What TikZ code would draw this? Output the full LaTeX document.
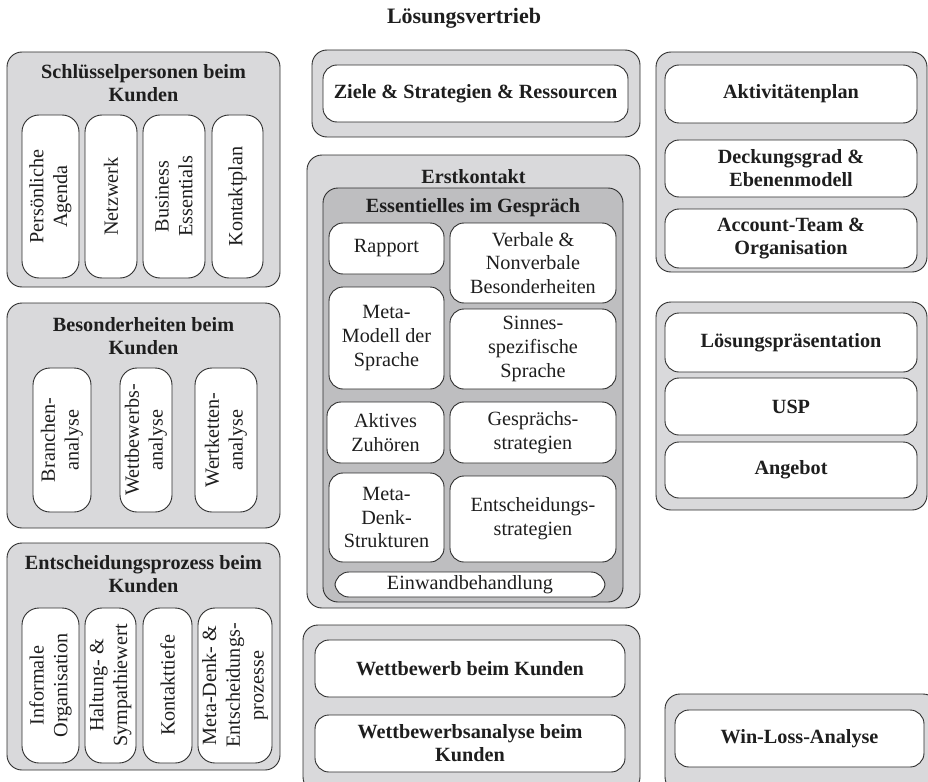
\documentclass[tikz,border=0pt]{standalone}
\usepackage{fontspec}
\setmainfont{Liberation Serif}
\definecolor{linec}{RGB}{45,45,45}
\definecolor{outerfill}{RGB}{217,217,219}
\definecolor{darkfill}{RGB}{190,190,192}
\definecolor{txt}{RGB}{30,30,30}
\tikzset{
  base/.style={draw=linec, line width=0.9, inner sep=0pt, rectangle},
  outerbox/.style={base, fill=outerfill, rounded corners=15},
  darkbox/.style={base, fill=darkfill, rounded corners=15},
  cell/.style={base, fill=white, rounded corners=14},
  pill/.style={base, fill=white, rounded corners=17},
  ttl/.style={text=txt, align=center, font=\fontsize{20.2}{23}\selectfont\bfseries},
  maintitle/.style={text=txt, align=center, font=\fontsize{22}{26}\selectfont\bfseries},
  btxt/.style={text=txt, align=center, font=\fontsize{20.2}{23}\selectfont\bfseries},
  rtxt/.style={text=txt, align=center, font=\fontsize{20.2}{23.8}\selectfont},
  rot/.style={rtxt, rotate=90},
}
\newcommand\bx[7]{\node[#1, minimum width={#5-#3}, minimum height={#6-#4}] (#2) at ({(#3+#5)/2},{(#4+#6)/2}) {#7};}
\begin{document}
\begin{tikzpicture}[x=1pt,y=-1pt]
\path[use as bounding box] (0,0) rectangle (928,781);
\clip (0,0) rectangle (928,781);
\node[maintitle] (title) at (464,18) {Lösungsvertrieb};

% ---- left column
\bx{outerbox}{L1}{7}{52}{280}{287}{}
\node[ttl] (L1t) at (143.5,83.5) {Schlüsselpersonen beim\\Kunden};
\bx{pill}{L1a}{22}{115}{79}{278}{}
\bx{pill}{L1b}{85}{115}{137}{278}{}
\bx{pill}{L1c}{143}{115}{205}{278}{}
\bx{pill}{L1d}{212}{115}{263}{278}{}
\node[rot] (L1at) at (L1a) {Persönliche\\Agenda};
\node[rot] (L1bt) at (L1b) {Netzwerk};
\node[rot] (L1ct) at (L1c) {Business\\Essentials};
\node[rot] (L1dt) at (L1d) {Kontaktplan};

\bx{outerbox}{L2}{7}{303}{280}{528}{}
\node[ttl] (L2t) at (143.5,336) {Besonderheiten beim\\Kunden};
\bx{pill}{L2a}{33}{368}{91}{512}{}
\bx{pill}{L2b}{120}{368}{172}{512}{}
\bx{pill}{L2c}{195}{368}{257}{512}{}
\node[rot] (L2at) at (L2a) {Branchen-\\analyse};
\node[rot] (L2bt) at (L2b) {Wettbewerbs-\\analyse};
\node[rot] (L2ct) at (L2c) {Wertketten-\\analyse};

\bx{outerbox}{L3}{7}{543}{280}{770}{}
\node[ttl] (L3t) at (143.5,574.5) {Entscheidungsprozess beim\\Kunden};
\bx{pill}{L3a}{22}{608}{79}{763}{}
\bx{pill}{L3b}{85}{608}{136}{763}{}
\bx{pill}{L3c}{143}{608}{192}{763}{}
\bx{pill}{L3d}{198}{608}{272}{763}{}
\node[rot] (L3at) at (L3a) {Informale\\Organisation};
\node[rot] (L3bt) at (L3b) {Haltung- \&\\Sympathiewert};
\node[rot] (L3ct) at (L3c) {Kontakttiefe};
\node[rot] (L3dt) at (L3d) {Meta-Denk- \&\\Entscheidungs-\\prozesse};

% ---- middle column
\bx{outerbox}{M1}{312}{50}{640}{137}{}
\bx{cell}{M1a}{323}{65}{628}{122}{}
\node[btxt] (M1at) at (M1a) {Ziele \& Strategien \& Ressourcen};

\bx{outerbox}{M2}{307}{155}{640}{608}{}
\node[ttl] (M2t) at (473.5,177) {Erstkontakt};
\bx{darkbox}{M2i}{323}{188}{623}{602}{}
\node[ttl] (M2it) at (473,208) {Essentielles im Gespräch};
\bx{cell}{E1}{329}{223}{444}{274}{}
\bx{cell}{E2}{450}{223}{616}{303}{}
\bx{cell}{E3}{329}{287}{444}{389}{}
\bx{cell}{E4}{450}{309}{616}{389}{}
\bx{cell}{E5}{327}{402}{444}{463}{}
\bx{cell}{E6}{450}{402}{616}{463}{}
\bx{cell}{E7}{329}{473}{444}{562}{}
\bx{cell}{E8}{450}{476}{616}{562}{}
\bx{cell}{E9}{335}{572}{605}{597}{}
\node[rtxt] (E1t) at (E1) {Rapport};
\node[rtxt] (E2t) at (E2) {Verbale \&\\Nonverbale\\Besonderheiten};
\node[rtxt] (E3t) at (E3) {Meta-\\Modell der\\Sprache};
\node[rtxt] (E4t) at (E4) {Sinnes-\\spezifische\\Sprache};
\node[rtxt] (E5t) at (E5) {Aktives\\Zuhören};
\node[rtxt] (E6t) at (E6) {Gesprächs-\\strategien};
\node[rtxt] (E7t) at (E7) {Meta-\\Denk-\\Strukturen};
\node[rtxt] (E8t) at (E8) {Entscheidungs-\\strategien};
\node[rtxt] (E9t) at (E9) {Einwandbehandlung};

\bx{outerbox}{M3}{303}{625}{640}{792}{}
\bx{cell}{M3a}{315}{640}{625}{697}{}
\bx{cell}{M3b}{315}{715}{625}{772}{}
\node[btxt] (M3at) at (M3a) {Wettbewerb beim Kunden};
\node[btxt] (M3bt) at (M3b) {Wettbewerbsanalyse beim\\Kunden};

% ---- right column
\bx{outerbox}{R1}{656}{52}{927}{272}{}
\bx{cell}{R1a}{665}{65}{917}{123}{}
\bx{cell}{R1b}{665}{140}{917}{197}{}
\bx{cell}{R1c}{665}{209}{917}{268}{}
\node[btxt] (R1at) at (R1a) {Aktivitätenplan};
\node[btxt] (R1bt) at (R1b) {Deckungsgrad \&\\Ebenenmodell};
\node[btxt] (R1ct) at (R1c) {Account-Team \&\\Organisation};

\bx{outerbox}{R2}{656}{302}{927}{510}{}
\bx{cell}{R2a}{665}{313}{917}{372}{}
\bx{cell}{R2b}{665}{378}{917}{435}{}
\bx{cell}{R2c}{665}{442}{917}{498}{}
\node[btxt] (R2at) at (R2a) {Lösungspräsentation};
\node[btxt] (R2bt) at (R2b) {USP};
\node[btxt] (R2ct) at (R2c) {Angebot};

\bx{outerbox}{R3}{665}{694}{938}{792}{}
\bx{cell}{R3a}{675}{710}{924}{767}{}
\node[btxt] (R3at) at (R3a) {Win-Loss-Analyse};
\end{tikzpicture}
\end{document}
